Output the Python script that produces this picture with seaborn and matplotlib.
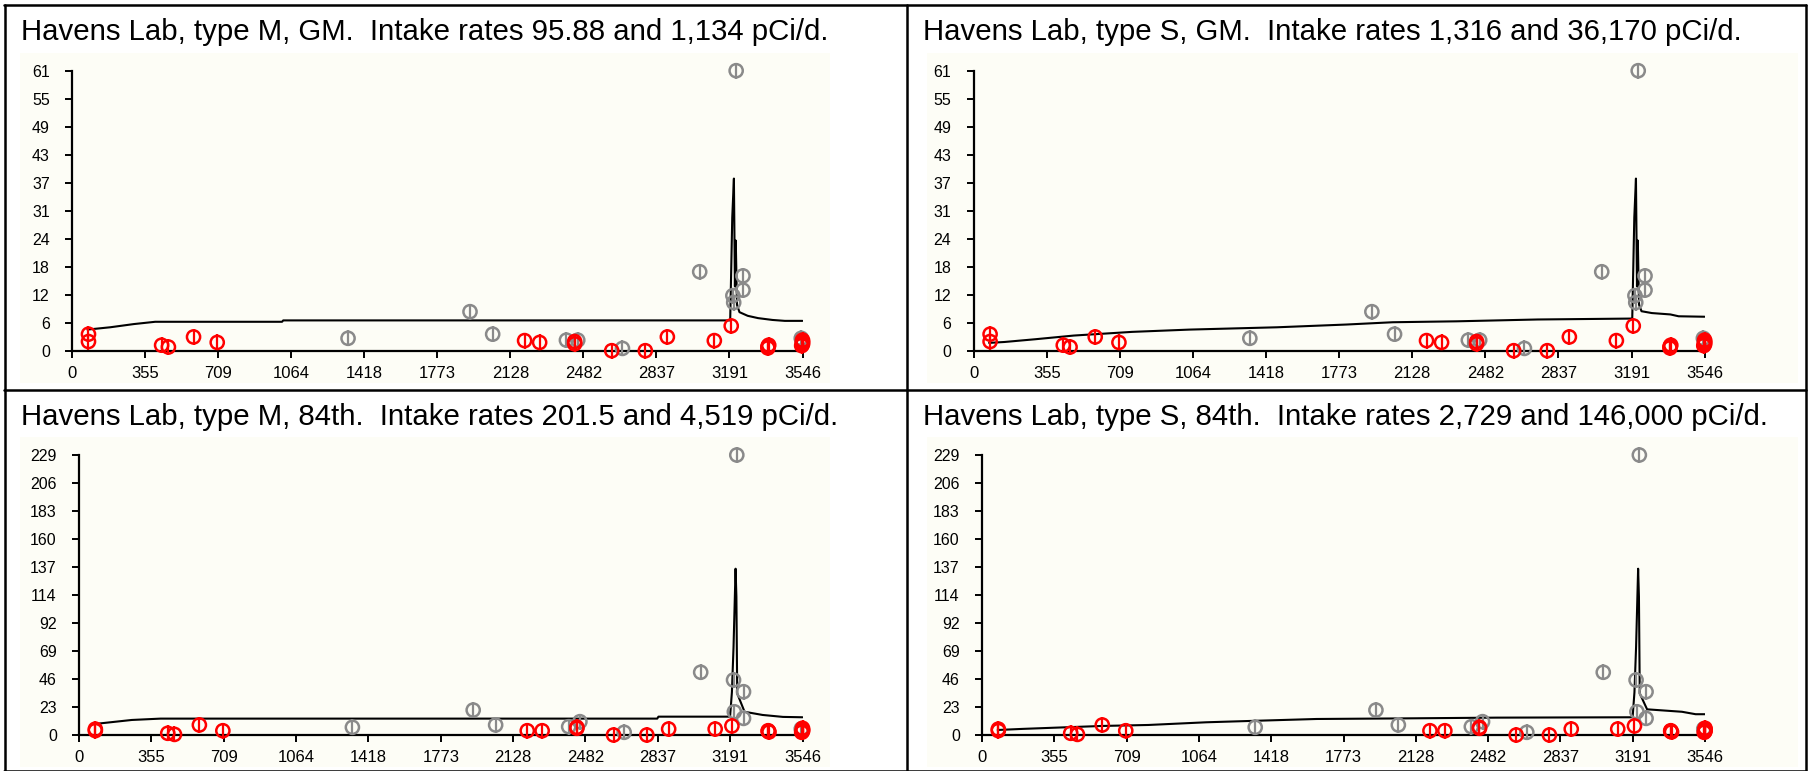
import numpy as np
import pandas as pd
import matplotlib
matplotlib.use("Agg")
import matplotlib.pyplot as plt
from matplotlib.lines import Line2D
from matplotlib.patches import Rectangle
import seaborn as sns

W, H = 1809, 771

TITLES = [
    "Havens Lab, type M, GM.  Intake rates 95.88 and 1,134 pCi/d.",
    "Havens Lab, type S, GM.  Intake rates 1,316 and 36,170 pCi/d.",
    "Havens Lab, type M, 84th.  Intake rates 201.5 and 4,519 pCi/d.",
    "Havens Lab, type S, 84th.  Intake rates 2,729 and 146,000 pCi/d.",
]
X_MAX = 3546
X_LABELS = ["0", "355", "709", "1064", "1418", "1773", "2128", "2482", "2837", "3191", "3546"]
Y_LABELS_GM = ["0", "6", "12", "18", "24", "31", "37", "43", "49", "55", "61"]
Y_LABELS_84 = ["0", "23", "46", "69", "92", "114", "137", "160", "183", "206", "229"]

# measured data points (red = one data set, gray = other)
red_x = [80, 80, 435, 468, 590, 705, 2197, 2270, 2440, 2440, 2620, 2783, 2890, 3118, 3200,
         3378, 3378, 3382, 3546, 3546, 3546, 3542, 3546]
red_gm = [3.6, 2.0, 1.2, 0.8, 3.0, 1.8, 2.2, 1.8, 2.0, 1.5, 0.0, 0.0, 3.0, 2.2, 5.4,
          0.9, 0.6, 1.2, 2.0, 1.4, 1.7, 1.1, 2.3]
red_84 = [4.8, 3.6, 1.4, 0.5, 8.2, 3.5, 3.5, 3.5, 6.3, 5.5, 0.0, 0.0, 4.9, 4.9, 7.4,
          3.5, 3.0, 2.5, 4.5, 3.0, 3.8, 2.2, 5.5]

gray_x = [1340, 1932, 2042, 2400, 2455, 2672, 3047, 3224, 3212, 3208, 3257, 3257, 3540]
gray_gm = [2.7, 8.5, 3.6, 2.3, 2.3, 0.5, 17.2, 61.0, 10.5, 12.0, 16.3, 13.2, 2.7]
gray_84 = [6.3, 20.4, 8.2, 6.8, 10.9, 2.2, 51.3, 229.0, 19.0, 45.0, 35.4, 13.6, 5.0]

# model curves
m_gm_x = [75, 185, 300, 404, 1020, 1025, 3195, 3205, 3213, 3218, 3222, 3228, 3240, 3280, 3330, 3400, 3460, 3546]
m_gm_y = [4.6, 5.1, 5.8, 6.3, 6.3, 6.6, 6.6, 29.0, 37.5, 14.0, 24.0, 10.0, 8.4, 7.6, 7.1, 6.7, 6.5, 6.5]

s_gm_x = [75, 150, 300, 486, 768, 1049, 1471, 1808, 2033, 2342, 2736, 3195, 3205, 3213, 3218, 3222, 3228, 3240, 3290, 3380, 3420, 3546]
s_gm_y = [1.7, 1.9, 2.5, 3.3, 4.1, 4.6, 5.1, 5.7, 6.2, 6.4, 6.8, 7.0, 29.0, 37.5, 14.0, 24.0, 10.0, 8.6, 8.2, 7.9, 7.5, 7.4]

m_84_x = [76, 259, 400, 2834, 2840, 3191, 3200, 3208, 3218, 3222, 3226, 3262, 3350, 3450, 3546]
m_84_y = [9.0, 12.3, 13.4, 13.4, 15.0, 15.0, 35.0, 72.0, 136.0, 113.0, 34.0, 19.0, 16.4, 14.8, 14.5]

s_84_x = [77, 200, 361, 589, 816, 1100, 1357, 1641, 2000, 2523, 3191, 3200, 3208, 3218, 3222, 3226, 3262, 3433, 3500, 3546]
s_84_y = [4.1, 5.0, 6.0, 7.4, 8.2, 10.4, 11.7, 13.1, 13.5, 14.2, 14.5, 35.0, 72.0, 136.0, 113.0, 34.0, 21.0, 19.0, 17.0, 17.0]

sns.set_style("white")
plt.rcParams["font.family"] = ["Liberation Sans", "DejaVu Sans"]

fig = plt.figure(figsize=(W / 100, H / 100), dpi=100)
fig.patch.set_facecolor("white")


def fbox(l, t, r, b):
    return [l / W, 1 - b / H, (r - l) / W, (b - t) / H]


# table grid
def hline(y, x0, x1):
    fig.add_artist(Line2D([x0 / W, x1 / W], [1 - y / H, 1 - y / H], color="black", lw=1.8))


def vline(x, y0, y1):
    fig.add_artist(Line2D([x / W, x / W], [1 - y0 / H, 1 - y1 / H], color="black", lw=1.8))


hline(5, 4, 1806)
hline(390, 4, 1806)
hline(770.5, 4, 1806)
vline(5, 5, 771)
vline(907, 5, 771)
vline(1806, 5, 771)

panels = [
    # title pos, cream box, axes box, line, red y, gray y, ymax, ylabels
    ((21, 40), (20, 53, 830, 383), (72, 70.7, 802.5, 350.7), (m_gm_x, m_gm_y), red_gm, gray_gm, 61, Y_LABELS_GM),
    ((923, 40), (927, 53, 1798, 383), (973.6, 70.7, 1704.6, 350.7), (s_gm_x, s_gm_y), red_gm, gray_gm, 61, Y_LABELS_GM),
    ((21, 425), (20, 437, 830, 767), (79, 455, 802.5, 735), (m_84_x, m_84_y), red_84, gray_84, 229, Y_LABELS_84),
    ((923, 425), (927, 437, 1798, 767), (982, 455, 1705, 735), (s_84_x, s_84_y), red_84, gray_84, 229, Y_LABELS_84),
]

for title, (tpos, cream, axbox, (lx, ly), ry, gy, ymax, ylabels) in zip(TITLES, panels):
    fig.text(tpos[0] / W, 1 - tpos[1] / H, title, fontsize=21.2, va="baseline", ha="left", color="black")
    l, t, r, b = cream
    fig.add_artist(Rectangle((l / W, 1 - b / H), (r - l) / W, (b - t) / H,
                             transform=fig.transFigure, facecolor="#fdfdf6", edgecolor="none", zorder=0))

    ax = fig.add_axes(fbox(*axbox))
    ax.set_facecolor("none")

    sns.lineplot(x=lx, y=ly, ax=ax, color="black", linewidth=1.5, sort=False, estimator=None)

    gdf = pd.DataFrame({"x": gray_x, "y": gy})
    rdf = pd.DataFrame({"x": red_x, "y": ry})
    for df, col in [(gdf, "#8a8a8a"), (rdf, "#ff0000")]:
        sns.scatterplot(data=df, x="x", y="y", ax=ax, marker="o", s=90, facecolor="none",
                        edgecolor=col, linewidth=1.8, clip_on=False, zorder=4)
        sns.scatterplot(data=df, x="x", y="y", ax=ax, marker="|", s=130, color=col,
                        edgecolor=col, linewidth=1.6, clip_on=False, zorder=4)

    ax.set_xlim(0, X_MAX)
    ax.set_ylim(0, ymax)
    ax.set_xticks(np.linspace(0, X_MAX, len(X_LABELS)))
    ax.set_xticklabels(X_LABELS)
    ax.set_yticks(np.linspace(0, ymax, len(ylabels)))
    ax.set_yticklabels(ylabels)
    ax.set_xlabel("")
    ax.set_ylabel("")
    for side in ["top", "right"]:
        ax.spines[side].set_visible(False)
    for side in ["left", "bottom"]:
        ax.spines[side].set_color("black")
        ax.spines[side].set_linewidth(1.6)
        ax.spines[side].set_zorder(2)
    ax.tick_params(axis="x", direction="out", length=5, width=1.4, labelsize=12, pad=6, colors="black", bottom=True)
    ax.tick_params(axis="y", direction="out", length=5, width=1.4, labelsize=11.5, pad=11, colors="black", left=True)

fig.savefig("out.png", dpi=100)
